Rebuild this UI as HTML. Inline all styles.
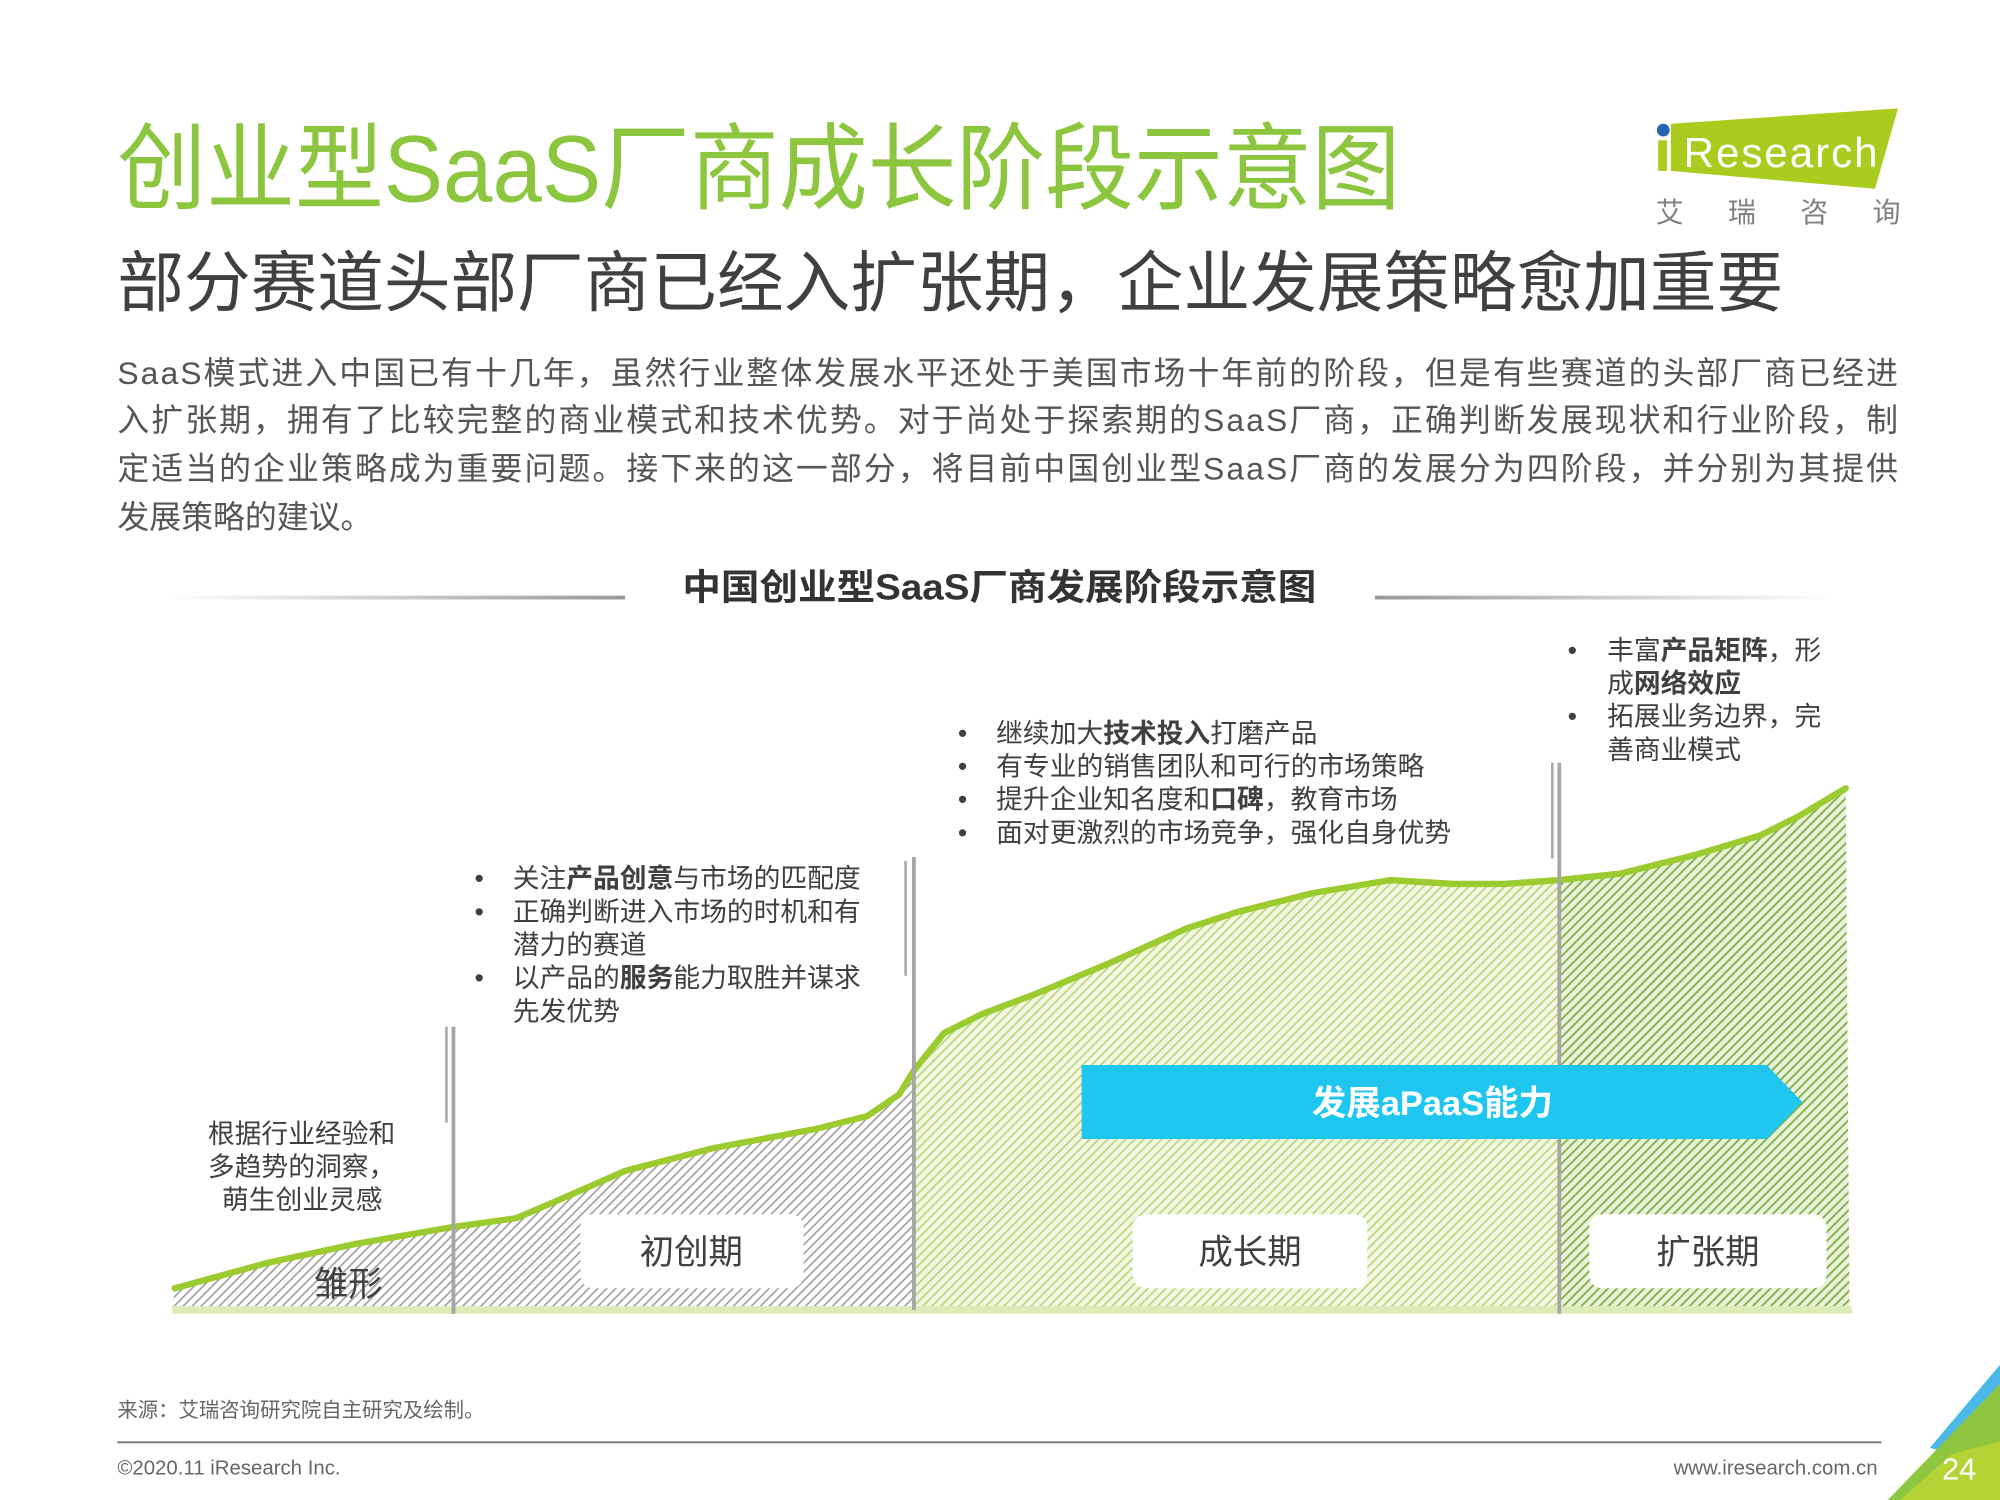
<!DOCTYPE html>
<html><head><meta charset="utf-8"><style>
html,body{margin:0;padding:0;background:#fff;}
svg{display:block;}
text{font-family:"Liberation Sans","Noto Sans CJK SC",sans-serif;}
</style></head><body>
<svg width="2000" height="1500" viewBox="0 0 1568 1176" xmlns="http://www.w3.org/2000/svg">
<defs>
<pattern id="hg" width="5" height="5" patternUnits="userSpaceOnUse" patternTransform="rotate(45)">
<rect width="5" height="5" fill="#fff"/><rect width="1.3" height="5" fill="#a0a0a0"/></pattern>
<pattern id="hl" width="5" height="5" patternUnits="userSpaceOnUse" patternTransform="rotate(45)">
<rect width="5" height="5" fill="#f3f8e4"/><rect width="1.3" height="5" fill="#b9d672"/></pattern>
<pattern id="hd" width="5" height="5" patternUnits="userSpaceOnUse" patternTransform="rotate(45)">
<rect width="5" height="5" fill="#e9f2da"/><rect width="1.5" height="5" fill="#86b24e"/></pattern>
<clipPath id="area"><path d="M137,1010 L210,990 L280,975 L355,962 L405,955 L440,940 L490,918 L560,900 L640,885 L680,875 L705,858 L716,840 L740,810 L770,795 L810,780 L870,755 L930,728 L970,715 L1030,700 L1090,690 L1140,693 L1180,693 L1222,690 L1270,685 L1330,670 L1380,655 L1410,640 L1447,618 L1450,1028 L135,1028 Z"/></clipPath>
<linearGradient id="lg1" x1="0" x2="1"><stop offset="0" stop-color="#fff"/><stop offset="1" stop-color="#999"/></linearGradient>
<linearGradient id="lg2" x1="0" x2="1"><stop offset="0" stop-color="#999"/><stop offset="1" stop-color="#fff"/></linearGradient>
</defs>

<text x="92" y="158" font-size="74" fill="#8cc63e" textLength="1006" lengthAdjust="spacingAndGlyphs">创业型SaaS厂商成长阶段示意图</text>
<text x="92" y="240" font-size="52" fill="#404040" textLength="1306" lengthAdjust="spacingAndGlyphs">部分赛道头部厂商已经入扩张期，企业发展策略愈加重要</text>

<polygon points="1310,97 1488,85 1470,148 1310,134" fill="#a9cc1f"/>
<circle cx="1304" cy="102" r="5" fill="#2466b0"/>
<rect x="1300" y="110" width="7" height="24" fill="#a9cc1f"/>
<text x="1320" y="131" font-size="33" fill="#fff" textLength="152">Research</text>
<text x="1298" y="174" font-size="22" fill="#808080" textLength="192">艾  瑞  咨  询</text>

<g font-size="25" fill="#555">
<text x="92" y="301" textLength="1396" lengthAdjust="spacing">SaaS模式进入中国已有十几年，虽然行业整体发展水平还处于美国市场十年前的阶段，但是有些赛道的头部厂商已经进</text>
<text x="92" y="338" textLength="1396" lengthAdjust="spacing">入扩张期，拥有了比较完整的商业模式和技术优势。对于尚处于探索期的SaaS厂商，正确判断发展现状和行业阶段，制</text>
<text x="92" y="376" textLength="1396" lengthAdjust="spacing">定适当的企业策略成为重要问题。接下来的这一部分，将目前中国创业型SaaS厂商的发展分为四阶段，并分别为其提供</text>
<text x="92" y="414">发展策略的建议。</text>
</g>

<rect x="130" y="467" width="360" height="3" fill="url(#lg1)"/>
<rect x="1078" y="467" width="360" height="3" fill="url(#lg2)"/>
<text x="535" y="470" font-size="28" font-weight="bold" fill="#333" textLength="497" lengthAdjust="spacingAndGlyphs">中国创业型SaaS厂商发展阶段示意图</text>

<g clip-path="url(#area)">
<rect x="135" y="600" width="582" height="430" fill="url(#hg)"/>
<rect x="717" y="600" width="505" height="430" fill="url(#hl)"/>
<rect x="1222" y="600" width="230" height="430" fill="url(#hd)"/>
</g>
<rect x="135" y="1024" width="1317" height="6" fill="#dcebb8"/>
<polyline points="137,1010 210,990 280,975 355,962 405,955 440,940 490,918 560,900 640,885 680,875 705,858 716,840 740,810 770,795 810,780 870,755 930,728 970,715 1030,700 1090,690 1140,693 1180,693 1222,690 1270,685 1330,670 1380,655 1410,640 1447,618" fill="none" stroke="#9ccb2f" stroke-width="5" stroke-linejoin="round" stroke-linecap="round"/>

<g fill="#a6a6a6">
<rect x="354" y="805" width="3" height="225"/><rect x="349" y="805" width="2" height="75"/>
<rect x="715" y="672" width="3" height="355"/><rect x="709" y="675" width="2" height="90"/>
<rect x="1221" y="598" width="3" height="432"/><rect x="1216" y="598" width="2" height="75"/>
</g>

<polygon points="848,835 1385,835 1413,864 1385,893 848,893" fill="#1fc6ef"/>
<text x="1123" y="874" font-size="27" font-weight="bold" fill="#fff" text-anchor="middle">发展aPaaS能力</text>

<g fill="#fff"><rect x="455" y="952" width="175" height="58" rx="10"/><rect x="888" y="952" width="184" height="58" rx="10"/><rect x="1246" y="952" width="186" height="58" rx="10"/></g>
<g font-size="27" fill="#404040" text-anchor="middle">
<text x="542" y="991">初创期</text><text x="980" y="991">成长期</text><text x="1339" y="991">扩张期</text>
<text x="273" y="1016">雏形</text>
</g>

<g font-size="21" fill="#404040">
<text x="163" y="896">根据行业经验和</text>
<text x="163" y="922">多趋势的洞察，</text>
<text x="174" y="948">萌生创业灵感</text>

<text x="372" y="696">•</text><text x="402" y="696">关注<tspan font-weight="bold">产品创意</tspan>与市场的匹配度</text>
<text x="372" y="722">•</text><text x="402" y="722">正确判断进入市场的时机和有</text>
<text x="402" y="748">潜力的赛道</text>
<text x="372" y="774">•</text><text x="402" y="774">以产品的<tspan font-weight="bold">服务</tspan>能力取胜并谋求</text>
<text x="402" y="800">先发优势</text>

<text x="751" y="582">•</text><text x="781" y="582">继续加大<tspan font-weight="bold">技术投入</tspan>打磨产品</text>
<text x="751" y="608">•</text><text x="781" y="608">有专业的销售团队和可行的市场策略</text>
<text x="751" y="634">•</text><text x="781" y="634">提升企业知名度和<tspan font-weight="bold">口碑</tspan>，教育市场</text>
<text x="751" y="660">•</text><text x="781" y="660">面对更激烈的市场竞争，强化自身优势</text>

<text x="1229" y="517">•</text><text x="1260" y="517">丰富<tspan font-weight="bold">产品矩阵</tspan>，形</text>
<text x="1260" y="543">成<tspan font-weight="bold">网络效应</tspan></text>
<text x="1229" y="569">•</text><text x="1260" y="569">拓展业务边界，完</text>
<text x="1260" y="595">善商业模式</text>
</g>

<text x="92" y="1111" font-size="16" fill="#666">来源：艾瑞咨询研究院自主研究及绘制。</text>
<rect x="92" y="1130" width="1383" height="1.5" fill="#777"/>
<text x="92" y="1156" font-size="16" fill="#666">©2020.11 iResearch Inc.</text>
<text x="1472" y="1156" font-size="16" fill="#666" text-anchor="end">www.iresearch.com.cn</text>

<polygon points="1568,1070 1513,1135 1530,1140 1568,1105" fill="#4ab9e8"/>
<polygon points="1568,1085 1480,1176 1568,1176" fill="#8ec63f"/>
<polygon points="1530,1140 1490,1176 1568,1176 1568,1130" fill="#b6d336"/>
<text x="1536" y="1160" font-size="24" fill="#fff" text-anchor="middle">24</text>
</svg>
</body></html>
